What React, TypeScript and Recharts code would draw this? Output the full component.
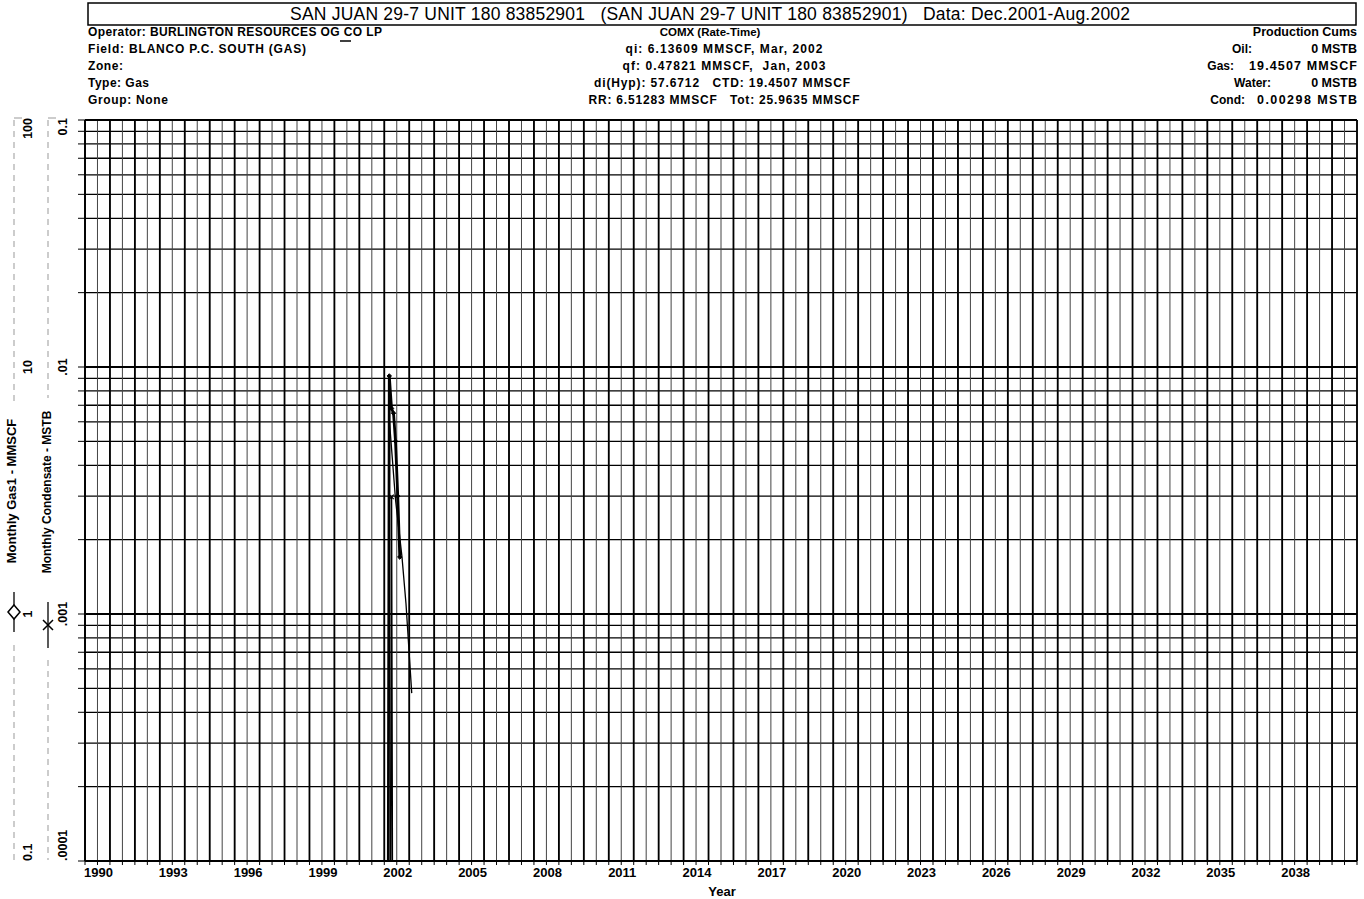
import React from 'react';
import { LineChart, Line, XAxis, YAxis, CartesianGrid, ReferenceLine } from 'recharts';

const FONT = '"Liberation Sans", Arial, Helvetica, sans-serif';

// ---- data ----
// mid-month positions, Dec 2001 .. Aug 2002
const months = [2001.96, 2002.04, 2002.12, 2002.2, 2002.29, 2002.37, 2002.45, 2002.54, 2002.62];
const gasValues = [0, 0, 0, 9.2, 6.8, 6.5, 5.0, 3.0, 1.7]; // MMSCF / month
const condValues = [0, 0, 0, 0, 0.00298, 0, 0, 0, 0]; // MSTB / month
const forecastMonths = [2002.2, 2002.45, 2002.71, 2002.87, 2003.1];
const forecastValues = [6.13609, 2.9, 1.7, 1.1, 0.47821];

// ---- axes ----
const X_MIN = 1990;
const X_MAX = 2041;
const yearLabels = [1990, 1993, 1996, 1999, 2002, 2005, 2008, 2011, 2014, 2017, 2020, 2023, 2026, 2029, 2032, 2035, 2038];
const gasDecades = [0.1, 1, 10, 100];
const gasDecadeLabels = ['0.1', '1', '10', '100'];
const condDecades = [0.0001, 0.001, 0.01, 0.1];
const condDecadeLabels = ['.0001', '.001', '.01', '0.1'];
const multipliers = [1, 2, 3, 4, 5, 6, 7, 8, 9];

const GAS_FLOOR = 0.001; // zero production drawn below the axis floor
const COND_FLOOR = 0.000001;

const years: number[] = [];
for (let y = X_MIN; y <= X_MAX; y++) years.push(y);
const halfYearTicks: number[] = [];
for (let y = X_MIN; y <= X_MAX; y += 0.5) halfYearTicks.push(y);
const condGrid: number[] = [];
condDecades.forEach((d, i) => {
  if (i < condDecades.length - 1) multipliers.forEach((m) => condGrid.push(Number((m * d).toPrecision(3))));
  else condGrid.push(d);
});

const gasData = months.map((t, i) => ({ t, v: gasValues[i] > 0 ? gasValues[i] : GAS_FLOOR }));
const condData = months.map((t, i) => ({ t, v: condValues[i] > 0 ? condValues[i] : COND_FLOOR }));
const forecastData = forecastMonths.map((t, i) => ({ t, v: forecastValues[i] }));

const XTick = (props: any) => {
  const { x, y, payload } = props;
  const v = payload.value as number;
  const base = Math.floor(v);
  if (v - base === 0.5 && yearLabels.includes(base)) {
    return (
      <text x={x + 1} y={y} dy={10} textAnchor="middle" fontFamily={FONT} fontSize={13} fontWeight={700} fill="#000">
        {String(base)}
      </text>
    );
  }
  return <g />;
};

const rotLabel = (idx: number, n: number, y: number, xPos: number, label: string) => {
  let anchor: 'start' | 'middle' | 'end' = 'middle';
  let yy = y;
  if (idx === n - 1) { anchor = 'end'; yy = y - 2; }
  if (idx === 0) { anchor = 'start'; yy = y; }
  return (
    <text
      x={xPos}
      y={yy}
      dy="0.36em"
      transform={`rotate(-90 ${xPos} ${yy})`}
      textAnchor={anchor}
      fontFamily={FONT}
      fontSize={12.5}
      fontWeight={700}
      fill="#000"
    >
      {label}
    </text>
  );
};

const GasTick = (props: any) => {
  const { y, payload } = props;
  const idx = gasDecades.indexOf(payload.value);
  if (idx < 0) return <g />;
  return rotLabel(idx, gasDecades.length, y, 27, gasDecadeLabels[idx]);
};

const CondTick = (props: any) => {
  const { y, payload } = props;
  const idx = condDecades.findIndex((d) => Math.abs(d - payload.value) < d * 1e-6);
  if (idx < 0) return <g />;
  return rotLabel(idx, condDecades.length, y, 62, condDecadeLabels[idx]);
};

const DiamondDot = (props: any) => {
  const { cx, cy, index } = props;
  if (cx == null || cy == null) return <g key={`d${index}`} />;
  const r = 2.2;
  return (
    <path
      key={`d${index}`}
      d={`M${cx},${cy - r}L${cx + r},${cy}L${cx},${cy + r}L${cx - r},${cy}Z`}
      fill="#000"
      stroke="#000"
      strokeWidth={1}
    />
  );
};

const CrossDot = (props: any) => {
  const { cx, cy, index } = props;
  if (cx == null || cy == null) return <g key={`c${index}`} />;
  const r = 2.2;
  return (
    <path
      key={`c${index}`}
      d={`M${cx - r},${cy - r}L${cx + r},${cy + r}M${cx - r},${cy + r}L${cx + r},${cy - r}`}
      stroke="#000"
      strokeWidth={1.2}
    />
  );
};

const T = (p: {
  x: number;
  y: number;
  w?: number;
  anchor?: 'start' | 'middle' | 'end';
  size?: number;
  weight?: number;
  children: string;
}) => (
  <text
    x={p.x}
    y={p.y}
    textAnchor={p.anchor || 'start'}
    fontFamily={FONT}
    fontSize={p.size || 12}
    fontWeight={p.weight || 700}
    fill="#000"
    textLength={p.w}
    lengthAdjust={p.w ? 'spacing' : undefined}
    style={{ whiteSpace: 'pre' }}
  >
    {p.children}
  </text>
);

const Header = () => (
  <svg width={1364} height={899} style={{ position: 'absolute', left: 0, top: 0, pointerEvents: 'none' }}>
    <rect x={88} y={3} width={1268} height={22} fill="none" stroke="#000" strokeWidth={1.5} />
    <T x={710} y={20} anchor="middle" size={17.5} weight={400} w={840}>
      {'SAN JUAN 29-7 UNIT 180 83852901   (SAN JUAN 29-7 UNIT 180 83852901)   Data: Dec.2001-Aug.2002'}
    </T>

    <T x={88} y={36} w={294}>Operator: BURLINGTON RESOURCES OG CO LP</T>
    <line x1={340} y1={41} x2={351} y2={41} stroke="#000" strokeWidth={1.5} />
    <T x={88} y={53} w={218}>Field: BLANCO P.C. SOUTH (GAS)</T>
    <T x={88} y={70} w={35}>Zone:</T>
    <T x={88} y={87} w={61}>Type: Gas</T>
    <T x={88} y={104} w={80}>Group: None</T>

    <T x={710} y={36} anchor="middle" size={11.5}>COMX (Rate-Time)</T>
    <T x={724} y={53} anchor="middle" w={197}>qi: 6.13609 MMSCF, Mar, 2002</T>
    <T x={724} y={70} anchor="middle" w={203}>{'qf: 0.47821 MMSCF,  Jan, 2003'}</T>
    <T x={722} y={87} anchor="middle" w={256}>{'di(Hyp): 57.6712   CTD: 19.4507 MMSCF'}</T>
    <T x={724} y={104} anchor="middle" w={271}>{'RR: 6.51283 MMSCF   Tot: 25.9635 MMSCF'}</T>

    <T x={1357} y={36} anchor="end" size={12.5}>Production Cums</T>
    <T x={1252} y={53} anchor="end">Oil:</T>
    <T x={1357} y={53} anchor="end" size={12.5}>0 MSTB</T>
    <T x={1234} y={70} anchor="end">Gas:</T>
    <T x={1357} y={70} anchor="end" size={12.5} w={108}>19.4507 MMSCF</T>
    <T x={1271} y={87} anchor="end">Water:</T>
    <T x={1357} y={87} anchor="end" size={12.5}>0 MSTB</T>
    <T x={1245} y={104} anchor="end">Cond:</T>
    <T x={1357} y={104} anchor="end" size={12.5} w={100}>0.00298 MSTB</T>

    {/* axis columns */}
    <line x1={14} y1={120} x2={14} y2={405} stroke="#999" strokeWidth={1} strokeDasharray="6 5" />
    <line x1={14} y1={645} x2={14} y2={860} stroke="#999" strokeWidth={1} strokeDasharray="6 5" />
    <line x1={48} y1={120} x2={48} y2={398} stroke="#999" strokeWidth={1} strokeDasharray="6 5" />
    <line x1={48} y1={660} x2={48} y2={860} stroke="#999" strokeWidth={1} strokeDasharray="6 5" />
    <line x1={14} y1={118} x2={22} y2={118} stroke="#999" strokeWidth={1} />
    <line x1={48} y1={118} x2={56} y2={118} stroke="#999" strokeWidth={1} />
    <text x={11} y={491} dy="0.36em" transform="rotate(-90 11 491)" textAnchor="middle" fontFamily={FONT} fontSize={13} fontWeight={700} fill="#000">
      Monthly Gas1 - MMSCF
    </text>
    <text x={47} y={492} dy="0.36em" transform="rotate(-90 47 492)" textAnchor="middle" fontFamily={FONT} fontSize={12} fontWeight={700} fill="#000">
      Monthly Condensate - MSTB
    </text>
    {/* legend symbols */}
    <line x1={14} y1={592} x2={14} y2={632} stroke="#000" strokeWidth={1.3} />
    <path d="M14,605L20,612L14,619L8,612Z" fill="#fff" stroke="#000" strokeWidth={1.5} />
    <line x1={48} y1={602} x2={48} y2={648} stroke="#000" strokeWidth={1.3} />
    <path d="M43,620L53,630M43,630L53,620" stroke="#000" strokeWidth={1.5} />
    <text x={722} y={896} textAnchor="middle" fontFamily={FONT} fontSize={13} fontWeight={700} fill="#000">
      Year
    </text>
  </svg>
);

export default function App() {
  return (
    <div style={{ position: 'absolute', left: 0, top: 0, width: 1364, height: 899, background: '#fff', overflow: 'hidden' }}>
      <LineChart width={1364} height={899} margin={{ top: 120, right: 7, bottom: 8, left: 0 }}>
        <CartesianGrid xAxisId="x" yAxisId="cond" vertical={false} stroke="#000" strokeWidth={1.3} />
        <CartesianGrid xAxisId="x" yAxisId="cond" horizontal={false} stroke="#444" strokeWidth={1} />
        <XAxis
          xAxisId="x"
          type="number"
          dataKey="t"
          domain={[X_MIN, X_MAX]}
          ticks={halfYearTicks}
          interval={0}
          allowDataOverflow
          height={30}
          tickSize={4}
          tickLine={{ stroke: '#000' }}
          axisLine={{ stroke: '#000', strokeWidth: 1.5 }}
          tick={(p: any) => <XTick {...p} />}
        />
        <YAxis
          yAxisId="gas"
          orientation="left"
          width={1}
          scale="log"
          type="number"
          domain={[0.1, 100]}
          ticks={gasDecades}
          interval={0}
          allowDataOverflow
          tickLine={false}
          axisLine={false}
          tick={(p: any) => <GasTick {...p} />}
        />
        <YAxis
          yAxisId="cond"
          orientation="left"
          width={84}
          scale="log"
          type="number"
          domain={[0.0001, 0.1]}
          ticks={condGrid}
          interval={0}
          allowDataOverflow
          tickSize={7}
          tickLine={{ stroke: '#000' }}
          axisLine={{ stroke: '#000', strokeWidth: 1.5 }}
          tick={(p: any) => <CondTick {...p} />}
        />
        {years.map((yr) => (
          <ReferenceLine key={`yr${yr}`} xAxisId="x" yAxisId="cond" x={yr} stroke="#000" strokeWidth={1.8} />
        ))}
        {condDecades.map((d) => (
          <ReferenceLine key={`dec${d}`} xAxisId="x" yAxisId="cond" y={d} stroke="#000" strokeWidth={2} />
        ))}
        <Line
          xAxisId="x"
          yAxisId="cond"
          data={condData}
          dataKey="v"
          stroke="#000"
          strokeWidth={1.5}
          dot={(p: any) => <CrossDot {...p} />}
          isAnimationActive={false}
        />
        <Line
          xAxisId="x"
          yAxisId="gas"
          data={forecastData}
          dataKey="v"
          stroke="#000"
          strokeWidth={1.3}
          dot={false}
          isAnimationActive={false}
        />
        <Line
          xAxisId="x"
          yAxisId="gas"
          data={gasData}
          dataKey="v"
          stroke="#000"
          strokeWidth={2.8}
          dot={(p: any) => <DiamondDot {...p} />}
          isAnimationActive={false}
        />
      </LineChart>
      <Header />
    </div>
  );
}
